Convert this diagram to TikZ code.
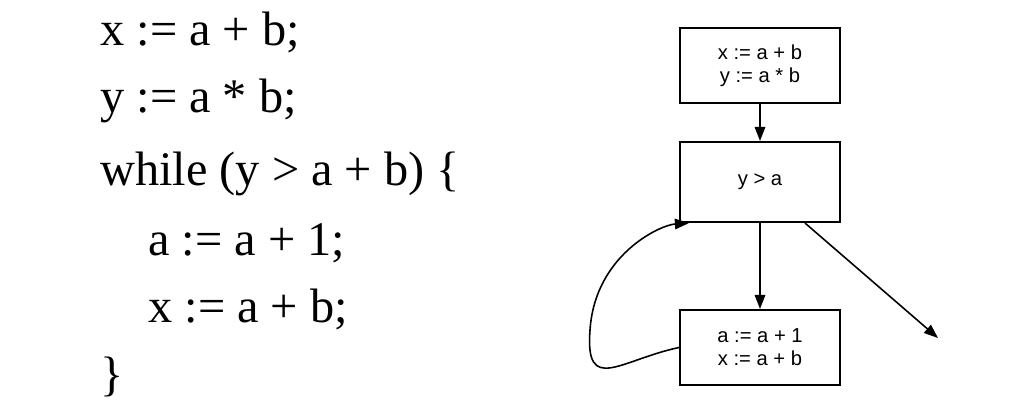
\documentclass[tikz,border=0pt]{standalone}
\usepackage{fontspec}
\setmainfont{Liberation Serif}
\newfontfamily\boxfont{Liberation Sans}
\usetikzlibrary{arrows.meta}
\begin{document}
\begin{tikzpicture}[x=0.02cm,y=-0.02cm,
  code/.style={anchor=base west,inner sep=0,font=\fontsize{27.5}{32}\selectfont},
  blk/.style={draw,line width=1.2pt,minimum width=3.2cm,inner sep=0,align=center,font=\boxfont\fontsize{11.5}{13}\selectfont},
  arr/.style={line width=0.9pt,-{Triangle[length=8pt,width=6pt]}}]
\useasboundingbox (0,0) rectangle (1017,416);
\node[code] (l1) at (100,45) {x := a + b;};
\node[code] (l2) at (100,112) {y := a * b;};
\node[code] (l3) at (100,185) {while (y > a + b) \{};
\node[code] (l4) at (148,255) {a := a + 1;};
\node[code] (l5) at (148,322) {x := a + b;};
\node[code] (l6) at (100,390) {\}};
\node[blk,minimum height=1.5cm] (b1) at (760,65.5) {x := a + b\\y := a * b};
\node[blk,minimum height=1.6cm] (b2) at (760,182) {y > a};
\node[blk,minimum height=1.5cm] (b3) at (760,347.5) {a := a + 1\\x := a + b};
\coordinate (out) at (938,338);
\draw[arr] (b1) -- (b2);
\draw[arr] (b2) -- (b3);
\draw[arr] ([xshift=0.9cm]b2.south) -- (out);
\draw[arr] (b3.west) .. controls (620,360) and (585,395) .. (590,330) .. controls (595,255) and (660,225) .. ([xshift=0.2cm]b2.south west);
\end{tikzpicture}
\end{document}
